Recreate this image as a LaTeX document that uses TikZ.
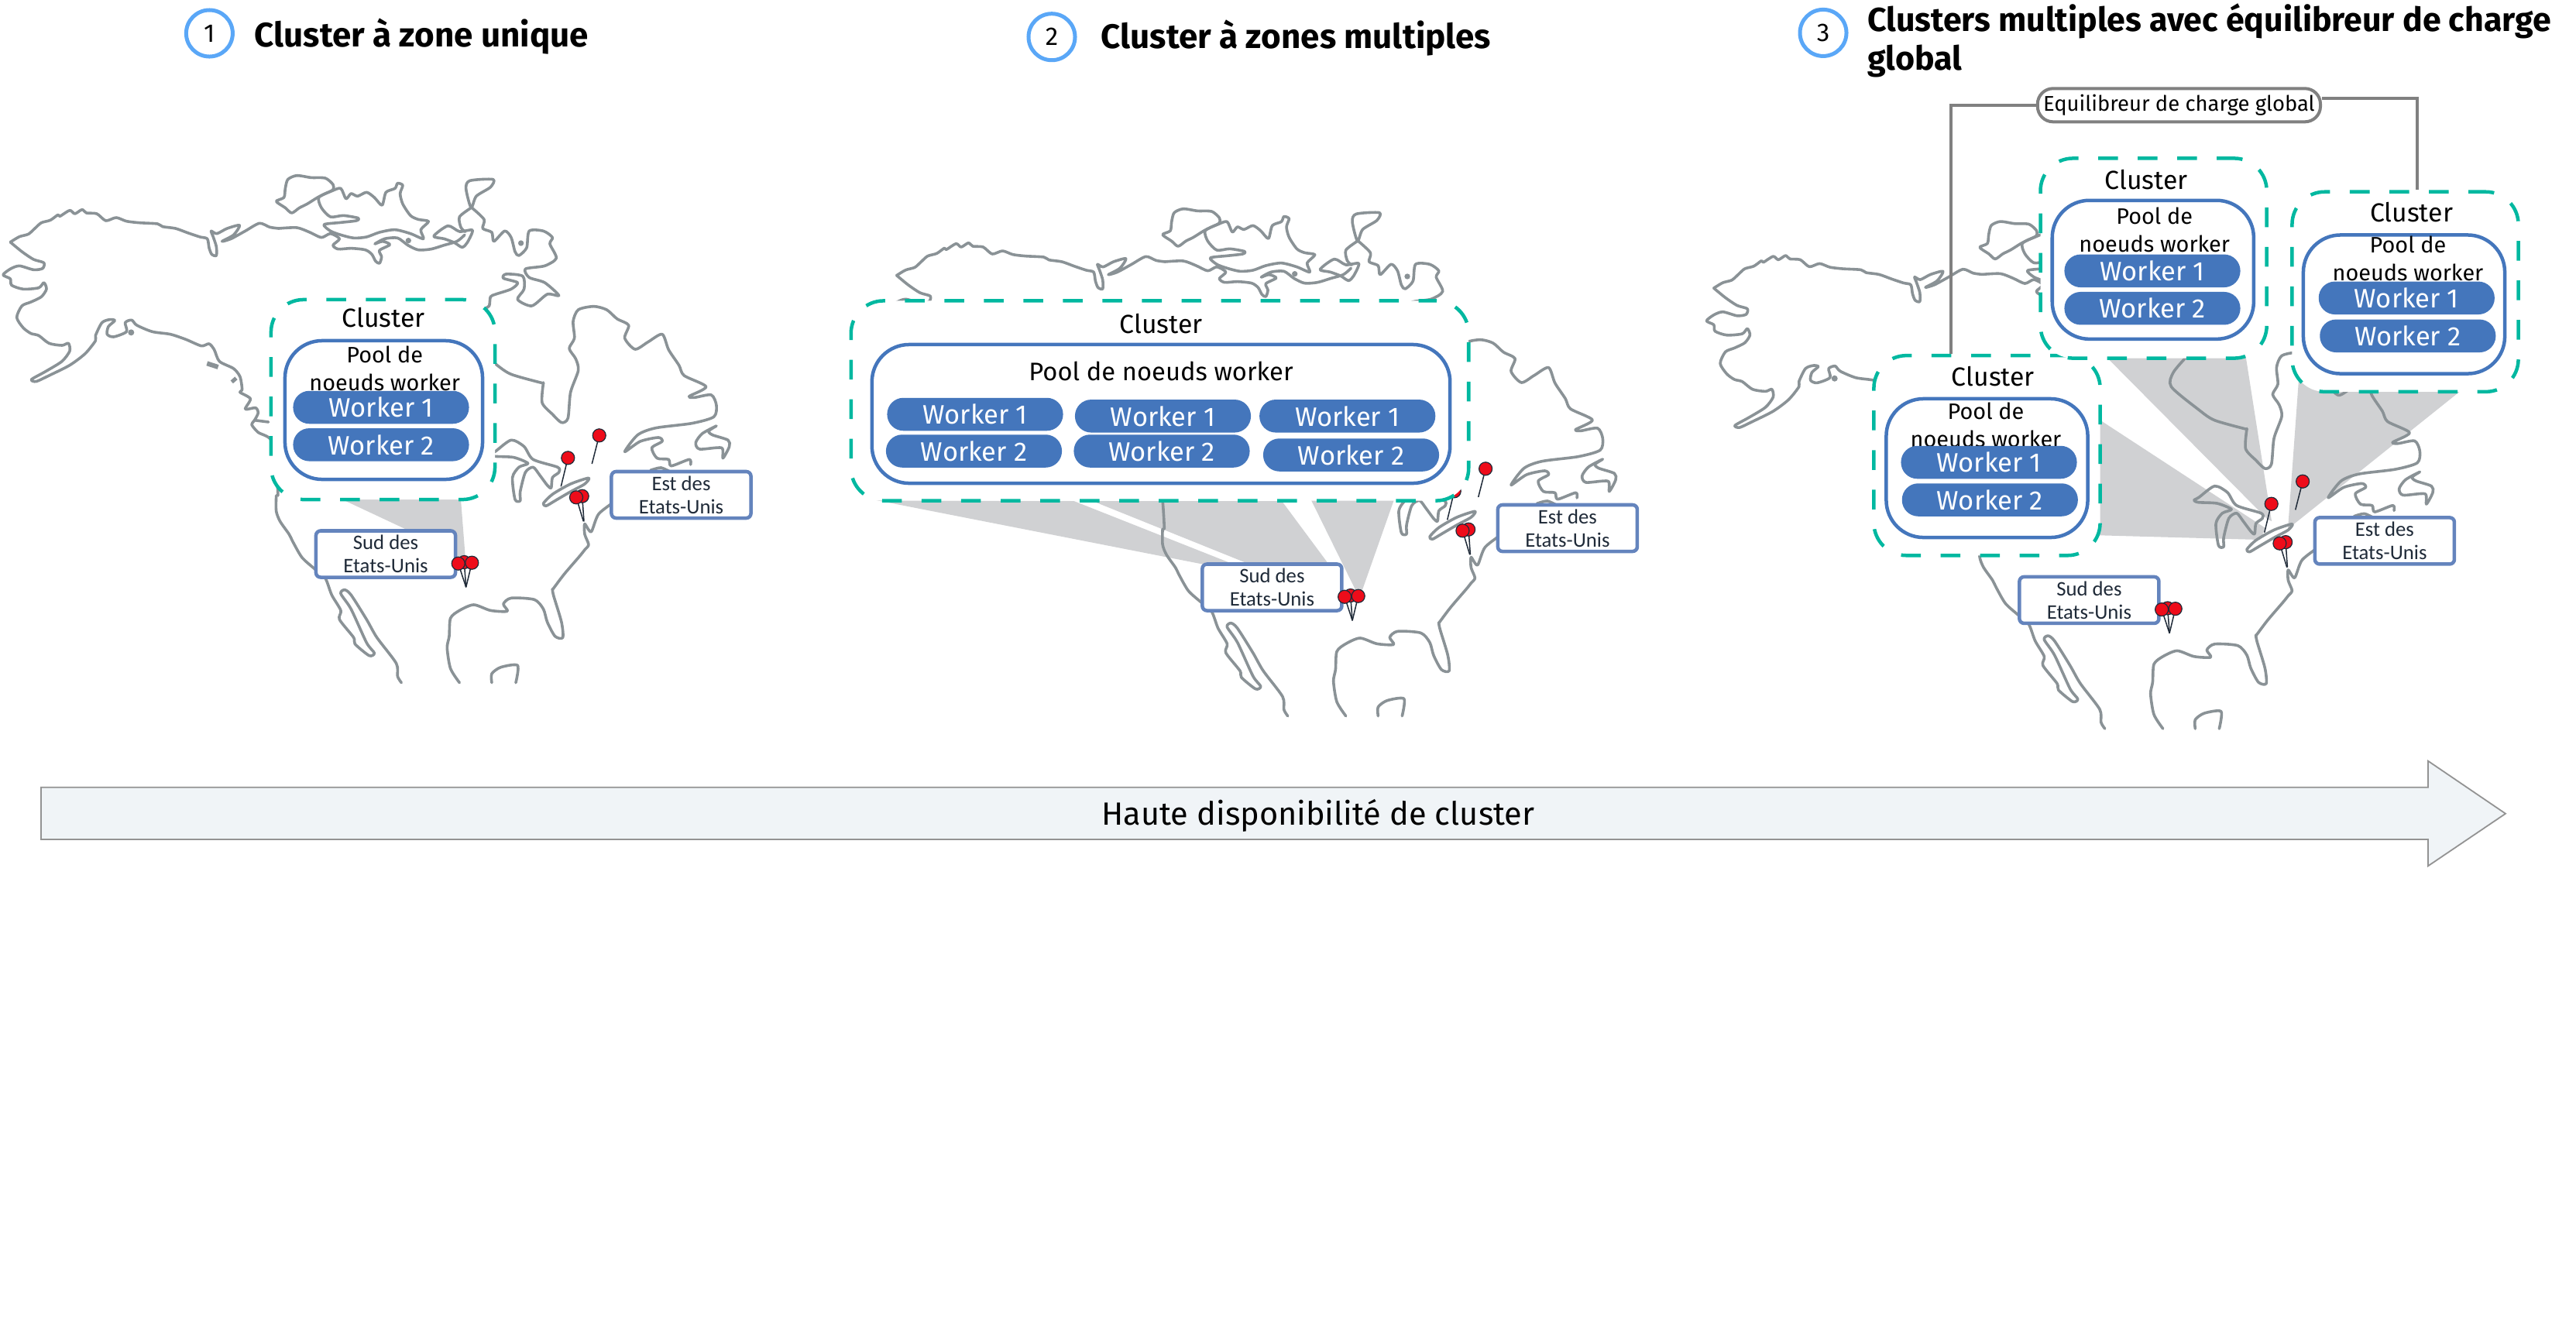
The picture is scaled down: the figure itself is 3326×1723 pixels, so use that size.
\documentclass[tikz,border=0pt]{standalone}
\usepackage{fontspec}
\setmainfont{Fira Sans}
\newfontfamily\regionfont{Carlito}
\usetikzlibrary{calc}
\definecolor{coast}{HTML}{8A9296}
\definecolor{shade}{HTML}{D0D1D3}
\definecolor{teal}{HTML}{00B8A0}
\definecolor{poolblue}{HTML}{4476BC}
\definecolor{regionblue}{HTML}{6484BD}
\definecolor{stepblue}{HTML}{5AA7F7}
\definecolor{wire}{HTML}{808080}
\definecolor{band}{HTML}{F0F4F7}
\definecolor{pinred}{HTML}{EE0C1A}
\definecolor{pinink}{HTML}{1F2A38}
\tikzset{
  coastline/.style={draw=coast, line width=.036cm, line join=round, line cap=round},
  wedge/.style={fill=shade, draw=none},
  clusterbox/.style={draw=teal, fill=white, line width=.045cm, rounded corners=.42cm,
    dash pattern=on .255cm off .255cm, dash phase=.03cm, minimum width=2.92cm, minimum height=2.58cm},
  poolbox/.style={draw=poolblue, fill=white, line width=.045cm, rounded corners=.48cm,
    minimum width=2.58cm, minimum height=1.79cm},
  workerpill/.style={fill=poolblue, text=white, rounded corners=.21cm, inner sep=0pt,
    minimum width=2.27cm, minimum height=.425cm, font=\fontsize{9.8}{10}\selectfont},
  clustertext/.style={inner sep=0pt, anchor=base, font=\fontsize{9.6}{10}\selectfont},
  pooltext/.style={inner sep=0pt, anchor=north, align=center,
    font=\fontsize{8.2}{10.2}\selectfont},
  regionbox/.style={draw=regionblue, fill=white, line width=.045cm, rounded corners=.06cm,
    inner sep=0pt, minimum width=1.80cm, minimum height=.60cm, align=center,
    text=pinink, font=\regionfont\fontsize{7.6}{8.5}\selectfont},
  stepcircle/.style={circle, draw=stepblue, line width=.05cm, minimum size=.60cm,
    inner sep=0pt, font=\fontsize{9.4}{10}\selectfont},
  titletext/.style={inner sep=0pt, font=\bfseries\fontsize{12.2}{14.2}\selectfont},
  stick/.style={draw=pinink, line width=.015cm},
  pinhead/.style={fill=pinred, draw=pinink, line width=.012cm},
  wire/.style={draw=wire, line width=.04cm}
}
\newcommand{\shore}[1]{\draw[coastline] plot[smooth,tension=.45] coordinates {#1};}
\newcommand{\isle}[1]{\draw[coastline] plot[smooth cycle,tension=.45] coordinates {#1};}

% Outline of the continent, same for the three panels.
\newcommand{\coastmap}{
  \begin{scope}[shift={(0,240)},scale=.3333]
    \shore{(40,218)(75,197)(110,187)(135,165)(160,143)(195,133)(225,112)(232,118)(270,95)
      (290,108)(318,92)(335,105)(375,108)(410,135)(450,123)(490,137)(540,143)(610,147)
      (630,158)(680,165)(730,183)(775,198)(803,205)(810,240)(820,265)(838,270)(838,235)
      (825,195)(818,175)(840,185)(880,165)(928,153)(905,190)(860,215)(895,205)(950,175)
      (1005,145)(1045,160)(1080,165)}
    \shore{(40,218)(85,255)(130,285)(170,298)(165,320)(130,325)(75,310)(40,322)(12,345)
      (40,360)(45,385)(90,400)(150,395)(170,375)(180,400)(160,430)(120,450)(85,465)(65,510)
      (90,550)(120,572)(150,580)(190,610)(240,618)(265,610)(270,640)(240,680)(175,720)
      (122,750)(140,758)(190,735)(270,695)(330,650)(370,600)(370,580)(395,530)(425,518)
      (445,522)(420,545)(415,575)(440,585)(490,565)(485,530)(510,520)(530,540)(590,565)
      (660,575)(720,595)(780,620)(810,612)(830,635)(850,680)(905,708)(930,740)(938,790)
      (930,800)(970,825)(950,865)(990,860)(1000,880)(985,910)(975,925)(1000,955)(1050,985)
      (1070,1090)(1077,1200)}
    \shore{(985,908)(1040,915)}
    \fill[coast] (508,568) circle (12);
    \draw[coast, line width=.06cm] (802,688) -- (845,702);
    \draw[coast, line width=.05cm] (898,760) -- (915,745);
  \end{scope}
  \begin{scope}[shift={(340,200)},scale=.3333]
    \shore{(60,285)(130,282)(180,300)(225,320)(260,305)(295,325)(270,350)(290,365)(340,362)
      (395,368)(420,385)(435,412)(450,420)(458,395)(450,370)(490,348)(462,335)(432,345)
      (470,325)(520,322)(560,350)(600,368)(650,365)(700,350)(750,335)(780,310)}
    \isle{(50,180)(80,165)(85,130)(95,95)(130,80)(185,88)(240,90)(270,115)(270,135)(240,150)
      (210,165)(170,190)(140,205)(110,225)(85,205)}
    \isle{(215,165)(265,140)(300,130)(320,170)(340,150)(365,160)(400,145)(430,165)(460,195)
      (475,145)(510,130)(520,110)(540,118)(530,150)(540,190)(570,235)(600,250)(640,258)
      (610,290)(620,325)(570,305)(510,290)(450,300)(400,318)(350,322)(300,310)(260,295)
      (235,270)(300,262)(360,255)(368,245)(310,235)(260,240)(225,205)}
    \isle{(660,315)(715,275)(760,297)(810,292)(790,340)(770,358)(740,340)(700,325)}
    \isle{(805,205)(785,130)(800,100)(890,95)(880,125)(825,160)}
    \shore{(805,205)(760,240)(765,280)(782,298)}
    \shore{(808,205)(855,250)(850,285)(885,300)(893,335)(935,295)(960,320)(975,375)(990,390)
      (1020,360)(1030,295)(1085,295)(1120,320)(1110,345)(1135,400)(1090,430)(1015,442)
      (1030,475)(1090,495)(1145,545)(1100,540)(1040,585)(985,560)(1010,520)(1005,470)
      (940,462)(930,478)(985,495)(960,520)(900,540)(880,550)(875,585)(855,600)(800,665)
      (792,720)(897,808)(960,850)(1085,885)}
    \fill[coast] (562,332) circle (11);
    \fill[coast] (998,342) circle (11);
  \end{scope}
  \begin{scope}[shift={(600,380)},scale=.3333]
    \shore{(305,342)(300,420)(340,465)(375,497)(400,480)
      (410,380)(440,295)(430,250)(405,210)(425,170)(420,105)(440,60)(500,47)(550,60)(590,95)
      (635,120)(620,170)(660,213)(710,185)(765,155)(790,215)(830,275)(850,315)(935,358)
      (870,395)(890,400)(955,390)(975,430)(965,475)(880,500)(740,518)(670,545)(620,610)
      (680,570)(750,555)(765,570)(725,595)(745,635)(790,640)(800,665)(870,640)(875,660)}
    \shore{(720,682)(760,672)(800,690)}
    \isle{(975,510)(945,530)(960,545)(1020,565)(1025,590)(1000,635)(995,595)(910,600)
      (895,575)(920,540)}
    \isle{(100,620)(120,608)(180,565)(230,590)(265,640)(360,670)(365,690)(340,710)(335,750)
      (320,740)(290,700)(265,670)(235,690)(215,765)(215,800)(195,795)(185,710)(210,670)
      (245,655)(190,632)(118,628)}
    \isle{(305,810)(340,775)(410,735)(480,712)(465,735)(410,765)(350,800)(315,820)}
    \shore{(340,1145)(385,1085)(445,1015)(465,990)(480,970)(465,930)(465,890)(490,920)
      (520,850)(600,790)}
  \end{scope}
  \begin{scope}[shift={(340,640)},scale=.3333]
    \shore{(50,0)(50,60)(65,100)(100,150)(115,180)(150,240)(200,285)(240,320)(265,385)
      (300,445)(295,480)(350,550)(355,575)(410,620)(430,610)(400,570)(340,440)(300,380)
      (315,365)(340,385)(400,480)(440,550)(515,650)(520,700)(535,725)}
    \shore{(760,725)(725,670)(712,590)(720,545)(725,475)(760,445)(815,423)(880,445)(945,448)
      (930,420)(960,397)(1050,403)(1085,440)(1100,490)(1130,545)(1160,550)(1155,490)
      (1125,390)(1120,365)(1120,362)}
    \shore{(885,725)(885,690)(920,665)(985,658)(978,725)}
  \end{scope}
}
% Region labels and pins, #1 keeps the node names apart.
\newcommand{\regionmarks}[1]{
  \node[regionbox] (sud#1) at (498,715.5) {Sud des\\Etats-Unis};
  \node[regionbox] (est#1) at (879.5,639) {Est des\\Etats-Unis};
  \foreach \hx/\hy/\tx/\ty in {733.3/591.3/724.3/628.3, 773.7/562.3/764.3/599,
    751.7/640.7/754/673.3, 744/642.3/753.3/673.3,
    599.3/726/601.7/758.3, 591.7/727.7/601.7/758.3, 609.3/726.7/601.7/758.3}{
    \draw[stick] (\hx,\hy) -- (\tx,\ty);
    \draw[pinhead] (\hx,\hy) circle (8.5);
  }
}

\begin{document}
\begin{tikzpicture}[x=.01cm,y=-.01cm]
\useasboundingbox (0,0) rectangle (3326,1723);

% Panel 1: cluster with a single zone.
\node[stepcircle] (stepone) at (270.4,43) {1};
\node[titletext, anchor=base west, font=\bfseries\fontsize{12.5}{14.2}\selectfont] (titleone)
  at (328,60) {Cluster à zone unique};

\fill[wedge] (442,645) -- (595,645) -- (601,722) -- (575,722) -- (523,683) -- cycle;
\coastmap
\regionmarks{one}
\node[clusterbox, minimum width=2.89cm] (clusterone) at (494.5,516) {};
\node[clustertext] (clusteronetext) at (495,422.7) {Cluster};
\node[poolbox, minimum width=2.55cm] (poolone) at (495.5,529.5) {};
\node[pooltext] (poolonetext) at (496.7,446) {Pool de\\noeuds worker};
\node[workerpill] (workeronea) at (492,526) {Worker 1};
\node[workerpill] (workeroneb) at (492,574.3) {Worker 2};

% Panel 2: one cluster over three zones.
\node[stepcircle] (steptwo) at (1358,47.7) {2};
\node[titletext, anchor=base west, font=\bfseries\fontsize{12.5}{14.2}\selectfont] (titletwo)
  at (1421,62) {Cluster à zones multiples};

\fill[wedge] (1131.7,646) -- (1386.5,647) -- (1586,726) -- (1555,729) -- cycle;
\fill[wedge] (1410.6,647) -- (1655,647) -- (1713.6,726) -- (1606.8,726) -- cycle;
\fill[wedge] (1693,646) -- (1799.7,646) -- (1758,764.6) -- (1751.5,764.6) -- cycle;
\begin{scope}[shift={(1144.4,43)}]
  \coastmap
  \regionmarks{two}
\end{scope}
\node[clusterbox, minimum width=7.97cm] (clustertwo) at (1497.5,517.5) {};
\node[clustertext] (clustertwotext) at (1499,430) {Cluster};
\node[poolbox, minimum width=7.46cm] (pooltwo) at (1499,534.5) {};
\node[inner sep=0pt, anchor=base, font=\fontsize{9.3}{10.2}\selectfont] (pooltwotext)
  at (1499,491) {Pool de noeuds worker};
\foreach \n/\x/\ya/\yb/\xb in {a/1259/535/582.5/1257.5, b/1501.5/537.3/582.5/1500,
  c/1739.7/537.3/587.5/1744.5}{
  \node[workerpill] (workertwo\n) at (\x,\ya) {Worker 1};
  \node[workerpill] (workertwob\n) at (\xb,\yb) {Worker 2};
}

% Panel 3: several clusters behind a global balancer.
\node[stepcircle] (stepthree) at (2354,42.4) {3};
\node[titletext, anchor=north west, align=left] (titlethree) at (2410.4,4)
  {Clusters multiples avec équilibreur de charge\\global};

\fill[wedge] (2700,535) -- (2925,682) -- (2918,697) -- (2700,691) -- cycle;
\fill[wedge] (2708.7,450) -- (2898,450) -- (2933,673) -- (2927,670) -- cycle;
\fill[wedge] (2968,490) -- (3176.7,505) -- (2954,683) -- cycle;
\begin{scope}[shift={(2199.4,59.4)}]
  \coastmap
  \regionmarks{three}
\end{scope}

\node[clusterbox] (clusterthreea) at (2565.5,588.2) {};
\node[clustertext] (clusterthreeatext) at (2573.4,498) {Cluster};
\node[poolbox, minimum width=2.60cm] (poolthreea) at (2565.5,604.5) {};
\node[pooltext] (poolthreeatext) at (2564,519) {Pool de\\noeuds worker};
\node[workerpill] (workerthreeaa) at (2568,597) {Worker 1};
\node[workerpill] (workerthreeab) at (2569.3,645.5) {Worker 2};

\node[clusterbox] (clusterthreeb) at (2780.6,333.5) {};
\node[clustertext] (clusterthreebtext) at (2771,244) {Cluster};
\node[poolbox, minimum width=2.60cm] (poolthreeb) at (2779.8,348.3) {};
\node[pooltext] (poolthreebtext) at (2781.7,267) {Pool de\\noeuds worker};
\node[workerpill] (workerthreeba) at (2779,349.8) {Worker 1};
\node[workerpill] (workerthreebb) at (2779,398.2) {Worker 2};

\node[clusterbox] (clusterthreec) at (3105.5,376.8) {};
\node[clustertext] (clusterthreectext) at (3113.5,286) {Cluster};
\node[poolbox, minimum width=2.60cm] (poolthreec) at (3104,393) {};
\node[pooltext] (poolthreectext) at (3109,304) {Pool de\\noeuds worker};
\node[workerpill] (workerthreeca) at (3107.3,384.8) {Worker 1};
\node[workerpill] (workerthreecb) at (3108.8,433.8) {Worker 2};

\node[draw=wire, fill=white, line width=.04cm, rounded corners=.2cm, inner sep=0pt,
  minimum width=3.65cm, minimum height=.43cm, font=\fontsize{7.8}{9}\selectfont]
  (balancer) at (2813.4,135.8) {Equilibreur de charge global};
\draw[wire] (balancer.west) -| ([xshift=-.46cm]clusterthreea.north);
\draw[wire] ([yshift=.09cm]balancer.east) -| ([xshift=.15cm]clusterthreec.north);

% Long arrow along the foot of the three panels.
\draw[draw=wire!85, fill=band, line width=.018cm] (53,1016.7) -- (3135,1016.7) -- (3135,982.7)
  -- (3235,1050.7) -- (3135,1118.3) -- (3135,1084) -- (53,1084) -- cycle;
\node[inner sep=0pt, anchor=base, font=\fontsize{11.8}{14}\selectfont] (availability)
  at (1702,1065.7) {Haute disponibilité de cluster};

\end{tikzpicture}
\end{document}
